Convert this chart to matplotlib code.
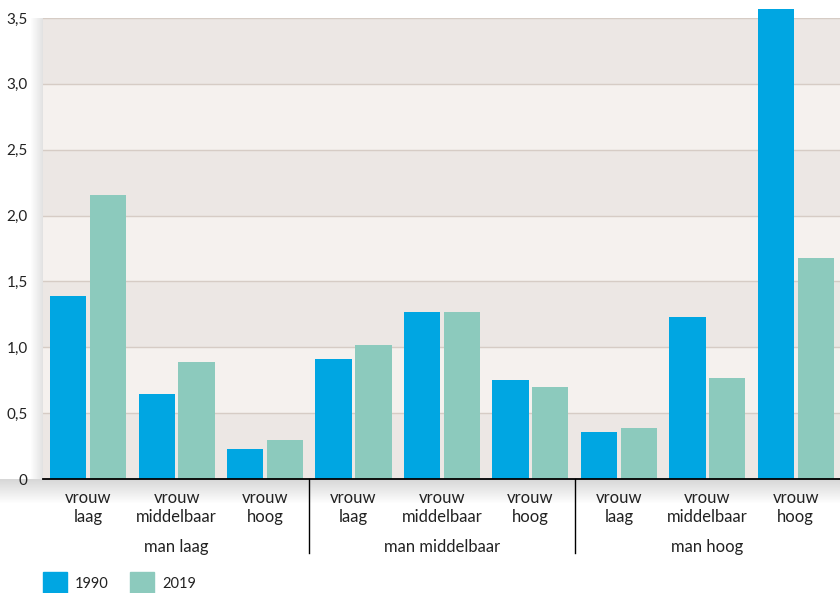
import numpy as np
import matplotlib
matplotlib.use('Agg')
import matplotlib.pyplot as plt
from matplotlib.patches import Rectangle

plt.rcParams['font.family'] = ['Lato', 'DejaVu Sans']

# data
vrouw_labels = ["vrouw\nlaag", "vrouw\nmiddelbaar", "vrouw\nhoog"] * 3
man_labels = ["man laag", "man middelbaar", "man hoog"]
v1990 = [1.39, 0.645, 0.23, 0.91, 1.27, 0.75, 0.36, 1.23, 3.57]
v2019 = [2.16, 0.89, 0.30, 1.02, 1.27, 0.70, 0.39, 0.77, 1.68]
series = ["1990", "2019"]
yticks = [0, 0.5, 1.0, 1.5, 2.0, 2.5, 3.0, 3.5]

c1990 = "#00a6e2"
c2019 = "#8ccabd"
band_dark = "#ece7e4"
band_light = "#f5f1ee"
grid_col = "#d6ccc5"
txt = "#222222"

fig = plt.figure(figsize=(8.4, 5.93), dpi=100)

# soft shadow under / left of the plot area
sh = fig.add_axes([0.0, 0.150, 1.0, 0.043], zorder=0)
img = np.zeros((40, 1, 4))
img[..., :3] = 0.45
img[..., 3] = np.linspace(0.3, 0.0, 40).reshape(-1, 1)
sh.imshow(img, aspect='auto', extent=[0, 1, 0, 1], origin='upper')
sh.set_xlim(0, 1)
sh.set_ylim(0, 1)
sh.axis('off')
sl = fig.add_axes([0.036, 0.192, 0.016, 0.778], zorder=0)
img2 = np.zeros((1, 20, 4))
img2[..., :3] = 0.45
img2[..., 3] = np.linspace(0.0, 0.22, 20)
sl.imshow(img2, aspect='auto', extent=[0, 1, 0, 1])
sl.axis('off')

ax = fig.add_axes([0.0512, 0.1922, 0.9488, 0.7774], zorder=1)
ax.set_xlim(-0.51, 8.5)
ax.set_ylim(0, 3.5)

for i in range(7):
    ax.axhspan(i * 0.5, (i + 1) * 0.5, color=band_dark if i % 2 == 0 else band_light,
               zorder=0, lw=0)
for y in yticks[1:]:
    ax.axhline(y, color=grid_col, lw=1.0, zorder=1)

x = np.arange(len(v1990))
w = 0.41
off = 0.225
ax.bar(x - off, v1990, width=w, color=c1990, zorder=3, clip_on=False, label=series[0])
ax.bar(x + off, v2019, width=w, color=c2019, zorder=3, clip_on=False, label=series[1])

ax.axhline(0, color="black", lw=1.3, zorder=4, clip_on=False)

for s in ax.spines.values():
    s.set_visible(False)

ax.set_yticks(yticks)
ax.set_yticklabels(["0" if v == 0 else f"{v:.1f}".replace(".", ",") for v in yticks],
                   fontsize=11, color=txt)
ax.tick_params(axis='y', length=0, pad=11)
ax.set_xticks(x)
ax.set_xticklabels(vrouw_labels, fontsize=12, color=txt, linespacing=1.25)
ax.tick_params(axis='x', length=0, pad=8)

trans = ax.get_xaxis_transform()
for j, lab in enumerate(man_labels):
    ax.text(3 * j + 1, -0.148, lab, transform=trans, ha="center", va="center",
            fontsize=12, color=txt)
for xs in [2.5, 5.5]:
    ax.plot([xs, xs], [0, -0.16], transform=trans, color="black", lw=1, clip_on=False)

# legend
fig.patches.append(Rectangle((43 / 840, 1 - 594 / 593), 24 / 840, 22 / 593,
                             transform=fig.transFigure, color=c1990, zorder=5))
fig.patches.append(Rectangle((130 / 840, 1 - 594 / 593), 24 / 840, 22 / 593,
                             transform=fig.transFigure, color=c2019, zorder=5))
fig.text(75 / 840, 1 - 584 / 593, series[0], fontsize=10.5, color=txt, va="center")
fig.text(162 / 840, 1 - 584 / 593, series[1], fontsize=10.5, color=txt, va="center")

fig.savefig("out.png", dpi=100, facecolor="white")
